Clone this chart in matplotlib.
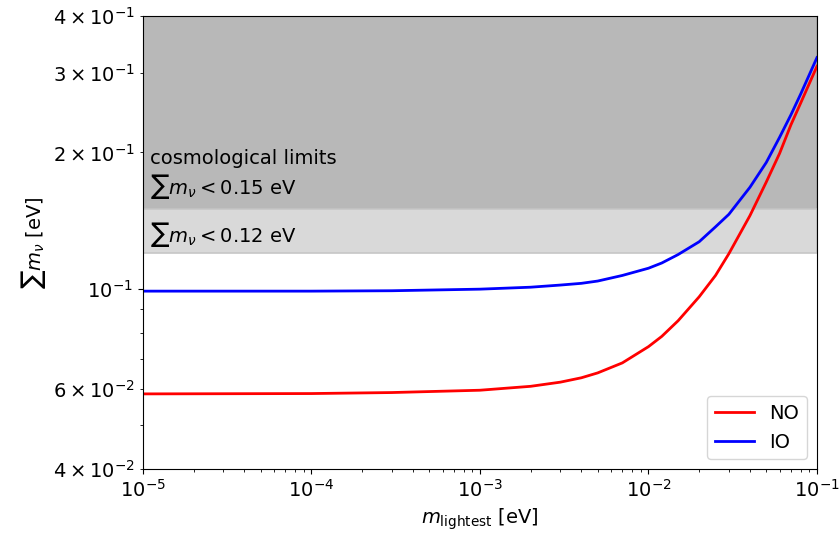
import matplotlib
matplotlib.use("Agg")
import matplotlib.pyplot as plt

# lightest neutrino mass [eV] and summed masses
m_light = [1e-5, 1e-4, 3e-4, 1e-3, 2e-3, 3e-3, 4e-3, 5e-3, 7e-3,
           1e-2, 1.2e-2, 1.5e-2, 2e-2, 2.5e-2, 3e-2, 4e-2, 5e-2,
           6e-2, 7e-2, 8e-2, 1e-1]
sum_no = [0.0586, 0.0587, 0.0590, 0.0597, 0.0609, 0.0622, 0.0636, 0.0652, 0.0686,
          0.0745, 0.0785, 0.0850, 0.0960, 0.1070, 0.1195, 0.1450, 0.1720,
          0.1990, 0.2300, 0.2570, 0.3100]
sum_io = [0.0988, 0.0988, 0.0990, 0.0998, 0.1008, 0.1019, 0.1028, 0.1040, 0.1070,
          0.1110, 0.1140, 0.1190, 0.1270, 0.1370, 0.1460, 0.1675, 0.1900,
          0.2160, 0.2420, 0.2690, 0.3240]

limit_loose = 0.15
limit_tight = 0.12

plt.rcParams.update({"font.size": 14})
fig = plt.figure(figsize=(8.4, 5.36), dpi=100)
ax = fig.add_axes([0.170, 0.125, 0.8026, 0.845])

ax.axhspan(limit_loose, 1.0, fc="#b8b8b8", ec="#a8a8a8", lw=1.2, zorder=0)
ax.axhspan(limit_tight, limit_loose, fc="#d9d9d9", ec="#c6c6c6", lw=1.2, zorder=0)

ax.plot(m_light, sum_no, color="red", lw=2, label="NO")
ax.plot(m_light, sum_io, color="blue", lw=2, label="IO")

ax.text(1.1e-5, 0.156, "cosmological limits\n$\\sum m_\\nu < 0.15$ eV",
        ha="left", va="bottom", fontsize=14)
ax.text(1.1e-5, 0.1225, "$\\sum m_\\nu < 0.12$ eV",
        ha="left", va="bottom", fontsize=14)

ax.set_xscale("log")
ax.set_yscale("log")
ax.set_xlim(1e-5, 1e-1)
ax.set_ylim(4e-2, 4e-1)
ax.set_xlabel("$m_{\\mathrm{lightest}}$ [eV]")
ax.set_ylabel("$\\sum m_\\nu$ [eV]")
ax.tick_params(labelsize=14)
ax.legend(loc="lower right", fontsize=14)

fig.savefig("out.png", dpi=100)
